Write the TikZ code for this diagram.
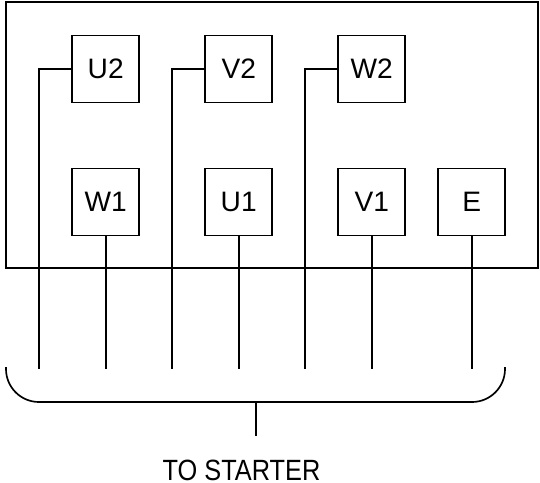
\documentclass[tikz,border=0pt]{standalone}
\usepackage{fontspec}
\setmainfont{Liberation Sans}
\newfontfamily\narrowfont[FakeStretch=0.865]{Liberation Sans}
\tikzset{
  terminal/.style={draw, minimum size=2.01cm, inner sep=0pt, font=\fontsize{24}{24}\selectfont}
}

\begin{document}
\begin{tikzpicture}[x=0.03cm, y=-0.03cm, line width=0.05cm]
  \useasboundingbox (0,0) rectangle (540,482);
  \xdef\rowa{69};
  \xdef\rowb{202};
  \xdef\wireend{369};
  \draw (6,2) rectangle (538,268);
  \node [terminal] (U2) at (105.7,\rowa) {U2};
  \node [terminal] (V2) at (238.7,\rowa) {V2};
  \node [terminal] (W2) at (371.7,\rowa) {W2};
  \node [terminal] (W1) at (105.7,\rowb) {W1};
  \node [terminal] (U1) at (238.7,\rowb) {U1};
  \node [terminal] (V1) at (371.7,\rowb) {V1};
  \node [terminal] (E) at (471.7,\rowb) {E};
  % wires of the upper row leave to the left
  \foreach \n/\x in {U2/39.2,V2/172.2,W2/305.2}{
    \coordinate (end\n) at (\x,\wireend);
    \draw (\n.west) -| (end\n);
  }
  % wires of the lower row go straight down
  \foreach \n in {W1,U1,V1,E}{
    \coordinate (end\n) at (\n.south |- 0,\wireend);
    \draw (\n.south) -- (end\n);
  }
  \coordinate (bl) at (6,367);
  \coordinate (br) at (505,367);
  \coordinate (stem) at (255.7,402);
  \coordinate (stemend) at (255.7,436);
  \draw [rounded corners=0.99cm] (bl) |- (stem) -| (br);
  \draw (stem) -- (stemend);
  \node [anchor=base, inner sep=0pt, font=\narrowfont\fontsize{25}{25}\selectfont] (starter) at (241.5,480.5) {TO STARTER};
\end{tikzpicture}
\end{document}
